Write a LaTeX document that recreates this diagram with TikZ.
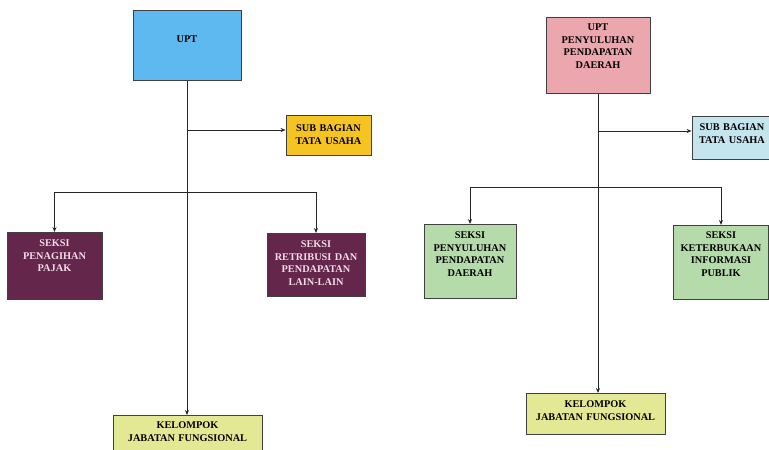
\documentclass[tikz,border=0pt]{standalone}
\usepackage{fontspec}
\setmainfont{Liberation Serif}
\usetikzlibrary{arrows.meta}

\definecolor{uptblue}{RGB}{93,185,240}
\definecolor{tugold}{RGB}{246,196,34}
\definecolor{seksimaroon}{RGB}{100,38,74}
\definecolor{seksitext}{RGB}{242,220,232}
\definecolor{kelyellow}{RGB}{226,232,148}
\definecolor{uptpink}{RGB}{236,166,174}
\definecolor{tublue}{RGB}{196,228,238}
\definecolor{seksigreen}{RGB}{182,219,170}

\begin{document}
\begin{tikzpicture}[x=1pt,y=-1pt,>={Stealth[length=5pt,width=4pt]},
 unit/.style={draw=black!75,line width=.8pt,anchor=north,inner sep=0pt,align=center,
   font=\fontsize{10.3}{12.6}\selectfont\bfseries},
 maroon/.style={unit,fill=seksimaroon,text=seksitext},
 green/.style={unit,fill=seksigreen},
 kel/.style={unit,fill=kelyellow},
 wire/.style={line width=1pt,draw=black!85},
 link/.style={wire,->}]
\useasboundingbox (0,0) rectangle (769,450);

% left chart
\node[unit,fill=uptblue,text width=108pt,text height=32pt,text depth=38pt] (upt) at (187,10) {UPT};
\node[unit,fill=tugold,text width=85pt,text height=16pt,text depth=24pt] (tu) at (328.5,115) {SUB BAGIAN\\TATA USAHA};
\node[maroon,text width=95pt,text height=14pt,text depth=53pt] (pajak) at (54.5,232) {SEKSI\\PENAGIHAN\\PAJAK};
\node[maroon,text width=98pt,text height=14pt,text depth=49pt] (retri) at (316,233) {SEKSI\\RETRIBUSI DAN\\PENDAPATAN\\LAIN-LAIN};
\node[kel,text width=149pt,text height=13pt,text depth=37pt] (jf) at (187.5,415) {KELOMPOK\\JABATAN FUNGSIONAL};
\coordinate (tujoin) at (187,130);
\coordinate (bus) at (187,192);

\draw[link] (upt.south) -- (upt.south |- jf.north);
\draw[link] (tujoin) -- (tujoin -| tu.west);
\draw[link] (bus) -| (pajak.north);
\draw[link] (bus) -| (retri.north);

% right chart
\node[unit,fill=uptpink,text width=104pt,text height=13pt,text depth=63pt] (uptpd) at (598,17) {UPT\\PENYULUHAN\\PENDAPATAN\\DAERAH};
\node[unit,fill=tublue,text width=80pt,text height=14pt,text depth=29pt] (tupd) at (732,116) {SUB BAGIAN\\TATA USAHA};
\node[green,text width=92pt,text height=14pt,text depth=60pt] (penyu) at (470,224) {SEKSI\\PENYULUHAN\\PENDAPATAN\\DAERAH};
\node[green,text width=95pt,text height=13pt,text depth=61pt] (kip) at (721,225) {SEKSI\\KETERBUKAAN\\INFORMASI\\PUBLIK};
\node[kel,text width=139pt,text height=14pt,text depth=27pt] (jfpd) at (595.5,393) {KELOMPOK\\JABATAN FUNGSIONAL};
\coordinate (tupdjoin) at (598,131);
\coordinate (buspd) at (598,187);

\draw[link] (uptpd.south) -- (uptpd.south |- jfpd.north);
\draw[link] (tupdjoin) -- (tupdjoin -| tupd.west);
\draw[link] (buspd) -| (penyu.north);
\draw[link] (buspd) -| (kip.north);
\end{tikzpicture}
\end{document}
